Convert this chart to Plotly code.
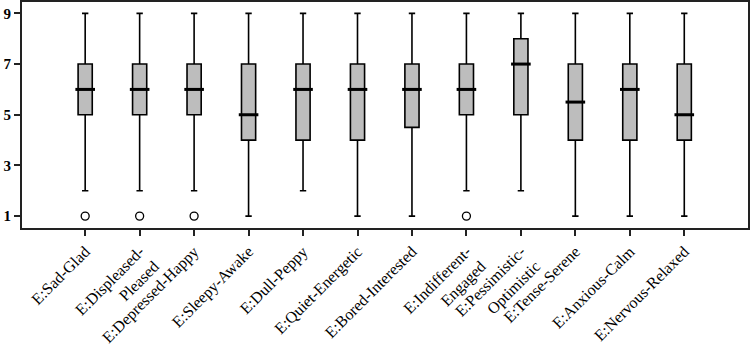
import plotly.graph_objects as go

categories = ["E:Sad-Glad", "E:Displeased-<br>Pleased", "E:Depressed-Happy", "E:Sleepy-Awake",
              "E:Dull-Peppy", "E:Quiet-Energetic", "E:Bored-Interested", "E:Indifferent-<br>Engaged",
              "E:Pessimistic-<br>Optimistic", "E:Tense-Serene", "E:Anxious-Calm", "E:Nervous-Relaxed"]
lower = [2, 2, 2, 1, 2, 1, 1, 2, 2, 1, 1, 1]
q1 = [5, 5, 5, 4, 4, 4, 4.5, 5, 5, 4, 4, 4]
median = [6, 6, 6, 5, 6, 6, 6, 6, 7, 5.5, 6, 5]
q3 = [7, 7, 7, 7, 7, 7, 7, 7, 8, 7, 7, 7]
upper = [9, 9, 9, 9, 9, 9, 9, 9, 9, 9, 9, 9]
outlier_idx = [0, 1, 2, 7]
outlier_val = [1, 1, 1, 1]
y_ticks = [1, 3, 5, 7, 9]

xs = list(range(len(categories)))

fig = go.Figure()
fig.add_trace(go.Box(
    x=xs, q1=q1, median=median, q3=q3, lowerfence=lower, upperfence=upper,
    boxpoints=False, fillcolor="#bdbdbd", line=dict(color="black", width=1.6),
    width=0.26, whiskerwidth=0.45, showlegend=False, hoverinfo="skip"))
# thicker median lines
fig.add_trace(go.Scatter(
    x=xs, y=median, mode="markers",
    marker=dict(symbol="line-ew", size=14, line=dict(color="black", width=3)),
    showlegend=False, hoverinfo="skip"))
fig.add_trace(go.Scatter(
    x=outlier_idx, y=outlier_val, mode="markers",
    marker=dict(symbol="circle-open", size=8, color="black", line=dict(width=1.3)),
    showlegend=False, hoverinfo="skip"))

font = "Liberation Serif"
fig.update_layout(
    width=750, height=347,
    margin=dict(l=22, r=2, t=2, b=119),
    paper_bgcolor="white", plot_bgcolor="white",
    font=dict(family=font, color="black", size=13),
    xaxis=dict(range=[-1.16, 12.17], tickvals=xs, ticktext=categories, tickangle=-45,
               automargin=False,
               showgrid=False, zeroline=False, showline=True, linecolor="#222", linewidth=2,
               mirror=True, ticks="outside", ticklen=6, tickwidth=1.5, tickcolor="#222",
               tickfont=dict(family=font, size=16, color="black")),
    yaxis=dict(range=[0.53, 9.45], tickvals=y_ticks, showgrid=False, zeroline=False,
               automargin=False,
               showline=True, linecolor="#222", linewidth=2, mirror=True,
               ticks="outside", ticklen=6, tickwidth=1.5, tickcolor="#222",
               tickfont=dict(family=font, size=15, color="black", weight="bold")),
)
fig.write_html("out.html")
